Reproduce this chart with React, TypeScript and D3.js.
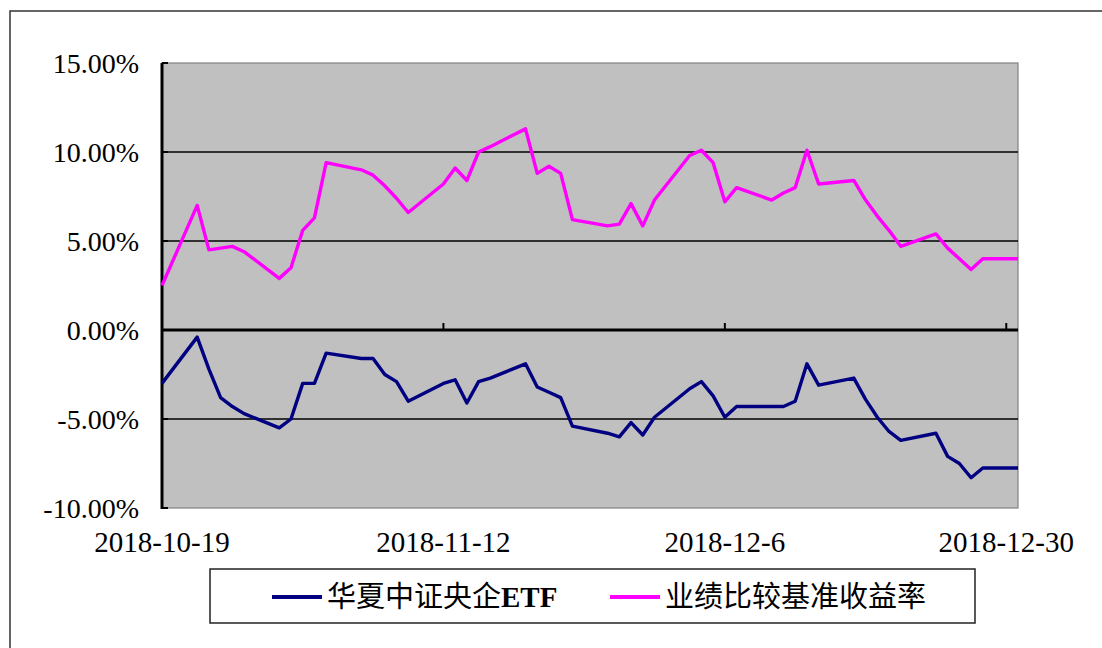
import React, { useEffect, useRef } from 'react';
import * as d3 from 'd3';

const dates: string[] = [
  '2018-10-19', '2018-10-22', '2018-10-23', '2018-10-24', '2018-10-25', '2018-10-26',
  '2018-10-29', '2018-10-30', '2018-10-31', '2018-11-01', '2018-11-02',
  '2018-11-05', '2018-11-06', '2018-11-07', '2018-11-08', '2018-11-09',
  '2018-11-12', '2018-11-13', '2018-11-14', '2018-11-15', '2018-11-16',
  '2018-11-19', '2018-11-20', '2018-11-21', '2018-11-22', '2018-11-23',
  '2018-11-26', '2018-11-27', '2018-11-28', '2018-11-29', '2018-11-30',
  '2018-12-03', '2018-12-04', '2018-12-05', '2018-12-06', '2018-12-07',
  '2018-12-10', '2018-12-11', '2018-12-12', '2018-12-13', '2018-12-14',
  '2018-12-17', '2018-12-18', '2018-12-19', '2018-12-20', '2018-12-21',
  '2018-12-24', '2018-12-25', '2018-12-26', '2018-12-27', '2018-12-28',
  '2018-12-31',
];

// 华夏中证央企ETF (%)
const etfValues: number[] = [
  -3.0, -0.4, -2.2, -3.8, -4.3, -4.7,
  -5.5, -5.0, -3.0, -3.0, -1.3,
  -1.6, -1.6, -2.5, -2.9, -4.0,
  -3.0, -2.8, -4.1, -2.9, -2.7,
  -1.9, -3.2, -3.5, -3.8, -5.4,
  -5.8, -6.0, -5.2, -5.9, -4.9,
  -3.3, -2.9, -3.7, -4.9, -4.3,
  -4.3, -4.3, -4.0, -1.9, -3.1,
  -2.7, -3.9, -4.9, -5.7, -6.2,
  -5.8, -7.1, -7.5, -8.3, -7.75,
  -7.75,
];

// 业绩比较基准收益率 (%)
const benchValues: number[] = [
  2.5, 7.0, 4.5, 4.6, 4.7, 4.4,
  2.9, 3.5, 5.6, 6.3, 9.4,
  9.0, 8.7, 8.1, 7.4, 6.6,
  8.2, 9.1, 8.4, 10.0, 10.3,
  11.3, 8.8, 9.2, 8.8, 6.2,
  5.85, 5.95, 7.1, 5.85, 7.3,
  9.8, 10.1, 9.4, 7.2, 8.0,
  7.3, 7.7, 8.0, 10.1, 8.2,
  8.4, 7.3, 6.4, 5.6, 4.7,
  5.4, 4.6, 4.0, 3.4, 4.0,
  4.0,
];

const yTicks: number[] = [15, 10, 5, 0, -5, -10];
const xTickDates: string[] = ['2018-10-19', '2018-11-12', '2018-12-06', '2018-12-30'];
const xTickLabels: string[] = ['2018-10-19', '2018-11-12', '2018-12-6', '2018-12-30'];
const seriesNames: string[] = ['华夏中证央企ETF', '业绩比较基准收益率'];
const seriesColors: string[] = ['#000080', '#FF00FF'];

const parse = d3.timeParse('%Y-%m-%d');

const App: React.FC = () => {
  const ref = useRef<SVGSVGElement | null>(null);

  useEffect(() => {
    const svg = d3.select(ref.current);
    svg.selectAll('*').remove();

    const left = 162, right = 1018, top = 63, bottom = 508;
    const serif = '"Liberation Serif", "Times New Roman", serif';
    const cjk = '"Noto Sans CJK SC", sans-serif';

    const x = d3.scaleTime()
      .domain([parse('2018-10-19')!, parse('2018-12-31')!])
      .range([left, right]);
    const y = d3.scaleLinear().domain([-10, 15]).range([bottom, top]);

    // outer frame
    svg.append('rect')
      .attr('x', 10).attr('y', 11).attr('width', 1100).attr('height', 650)
      .attr('fill', '#fff').attr('stroke', '#333').attr('stroke-width', 1.5);

    // plot area
    svg.append('rect')
      .attr('x', left).attr('y', top)
      .attr('width', right - left).attr('height', bottom - top)
      .attr('fill', '#C0C0C0').attr('stroke', '#808080').attr('stroke-width', 1.2);

    // gridlines
    svg.selectAll('.grid')
      .data(yTicks.filter((t) => t !== 15 && t !== -10 && t !== 0))
      .enter().append('line')
      .attr('x1', left).attr('x2', right)
      .attr('y1', (d) => y(d)).attr('y2', (d) => y(d))
      .attr('stroke', '#000').attr('stroke-width', 1.5);

    // y axis
    svg.append('line')
      .attr('x1', left).attr('x2', left).attr('y1', top).attr('y2', bottom + 1)
      .attr('stroke', '#000').attr('stroke-width', 3);
    svg.selectAll('.ytick')
      .data(yTicks)
      .enter().append('line')
      .attr('x1', left).attr('x2', left + 6)
      .attr('y1', (d) => y(d)).attr('y2', (d) => y(d))
      .attr('stroke', '#000').attr('stroke-width', 2);
    svg.selectAll('.ylab')
      .data(yTicks)
      .enter().append('text')
      .attr('x', 139).attr('y', (d) => y(d) + 10)
      .attr('text-anchor', 'end')
      .style('font-family', serif).style('font-size', '28px')
      .text((d) => `${d.toFixed(2)}%`);

    // x axis at zero
    svg.append('line')
      .attr('x1', left).attr('x2', right).attr('y1', y(0)).attr('y2', y(0))
      .attr('stroke', '#000').attr('stroke-width', 3);
    svg.selectAll('.xtick')
      .data(xTickDates)
      .enter().append('line')
      .attr('x1', (d) => x(parse(d)!)).attr('x2', (d) => x(parse(d)!))
      .attr('y1', y(0)).attr('y2', y(0) - 7)
      .attr('stroke', '#000').attr('stroke-width', 2);
    svg.selectAll('.xlab')
      .data(xTickDates)
      .enter().append('text')
      .attr('x', (d) => x(parse(d)!)).attr('y', 552)
      .attr('text-anchor', 'middle')
      .style('font-family', serif).style('font-size', '29px')
      .text((_, i) => xTickLabels[i]);

    // series lines
    const line = d3.line<number>()
      .x((_, i) => x(parse(dates[i])!))
      .y((d) => y(d));
    [etfValues, benchValues].forEach((vals, i) => {
      svg.append('path')
        .datum(vals)
        .attr('d', line)
        .attr('fill', 'none')
        .attr('stroke', seriesColors[i])
        .attr('stroke-width', 3.4)
        .attr('stroke-linejoin', 'round');
    });

    // legend
    svg.append('rect')
      .attr('x', 210).attr('y', 569).attr('width', 765).attr('height', 54)
      .attr('fill', '#fff').attr('stroke', '#222').attr('stroke-width', 1.5);
    const legendX = [272, 610];
    seriesNames.forEach((name, i) => {
      svg.append('line')
        .attr('x1', legendX[i]).attr('x2', legendX[i] + 50)
        .attr('y1', 597).attr('y2', 597)
        .attr('stroke', seriesColors[i]).attr('stroke-width', 4);
      const t = svg.append('text')
        .attr('x', legendX[i] + 55).attr('y', 607)
        .style('font-family', cjk).style('font-size', '29px');
      const m = name.match(/^([^A-Za-z]+)([A-Za-z]*)$/);
      if (m && m[2]) {
        t.append('tspan').text(m[1]);
        t.append('tspan').style('font-family', serif).style('font-weight', 'bold').text(m[2]);
      } else {
        t.text(name);
      }
    });
  }, []);

  return (
    <svg
      ref={ref}
      width={1102}
      height={648}
      style={{ position: 'absolute', left: 0, top: 0, background: '#fff' }}
    />
  );
};

export default App;
